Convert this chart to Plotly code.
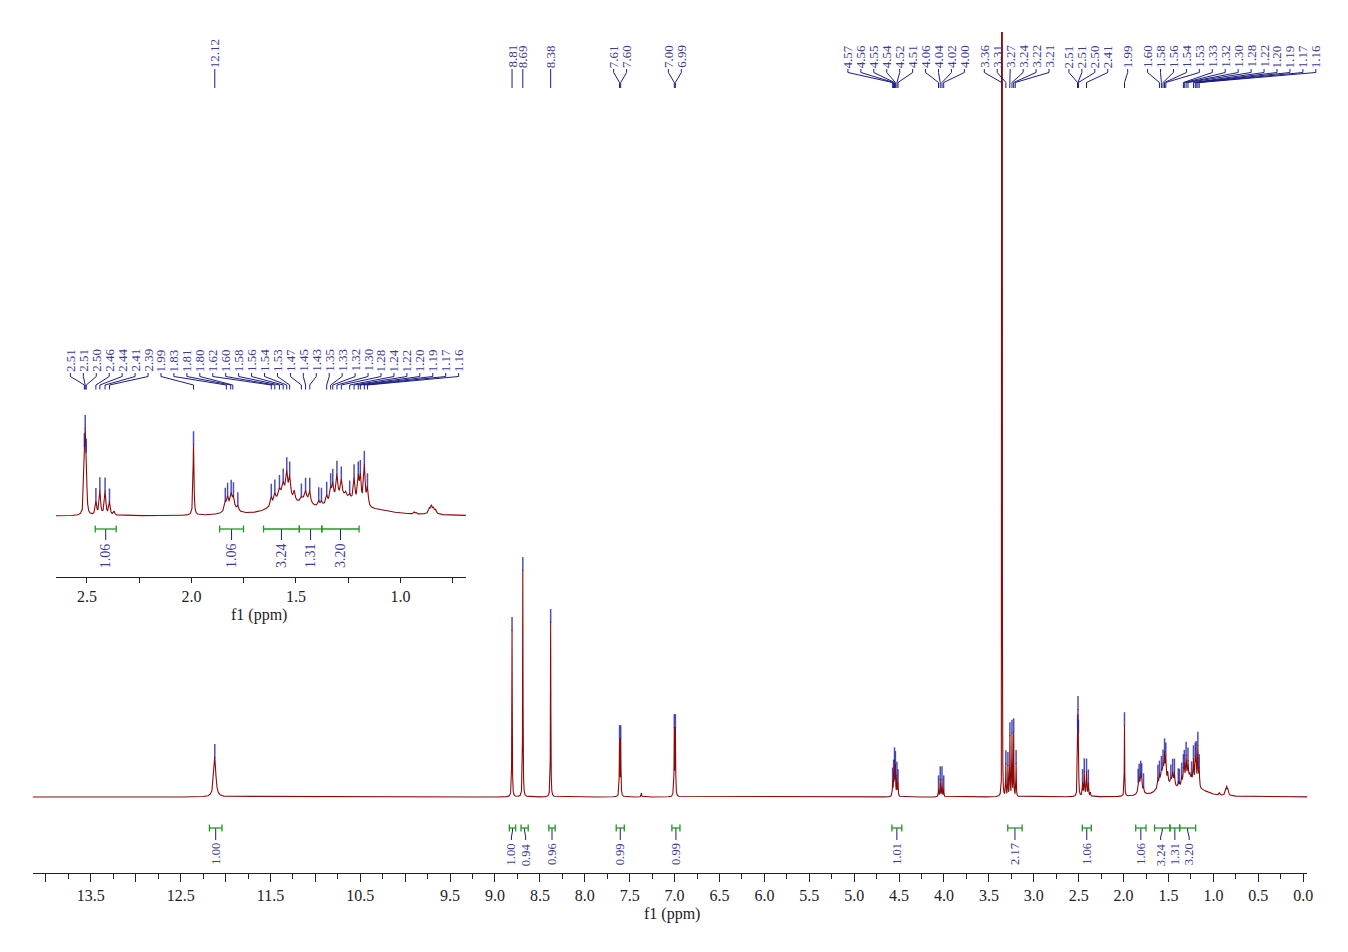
import numpy as np
import plotly.graph_objects as go

W, H = 1348, 952

# ---------------- data ----------------
# spectral lines: position (ppm), height (intensity units), half-width (ppm), peak-picked flag
LINE_PPM = [12.120, 8.810, 8.690, 8.380, 7.613, 7.600, 7.370, 7.003, 6.991,
            4.572, 4.561, 4.551, 4.541, 4.524, 4.512,
            4.061, 4.042, 4.022, 4.003,
            3.352,
            3.311, 3.288, 3.266, 3.243, 3.224, 3.197,
            2.512, 2.508, 2.503, 2.457, 2.438, 2.413, 2.392, 2.370,
            1.990,
            1.838, 1.827, 1.810, 1.799, 1.778, 1.810,
            1.618, 1.601, 1.579, 1.561, 1.544, 1.530, 1.508, 1.558,
            1.474, 1.454, 1.434, 1.455,
            1.391, 1.378,
            1.353, 1.334, 1.324, 1.304, 1.283, 1.262, 1.243, 1.222, 1.202, 1.192, 1.173, 1.158,
            1.280, 1.100,
            0.935, 0.925, 0.862, 0.852, 0.842, 0.832, 0.850]
LINE_HEIGHT = [40, 167, 227, 175, 56, 56, 4, 66, 66,
               14, 20, 32, 29, 20, 13,
               8, 17, 17, 8,
               2500,
               32, 30, 60, 62, 64, 33,
               45, 62, 45, 13, 24, 24, 13, 4,
               71,
               8, 11, 11, 10, 5, 8,
               8, 8, 6, 8, 20, 19, 9, 22,
               3, 7, 11, 10,
               5, 4,
               8, 12, 15, 22, 15, 4, 4, 23, 24, 26, 40, 18,
               18, 3,
               2, 1.5, 4, 6, 4, 3, 3]
LINE_HWHM = [0.014, 0.0025, 0.0025, 0.0025, 0.003, 0.003, 0.003, 0.003, 0.003,
             0.003, 0.003, 0.003, 0.003, 0.003, 0.003,
             0.003, 0.003, 0.003, 0.003,
             0.0008,
             0.0025, 0.0025, 0.0025, 0.0025, 0.0025, 0.0025,
             0.0028, 0.0028, 0.0028, 0.004, 0.004, 0.004, 0.004, 0.004,
             0.0025,
             0.005, 0.005, 0.005, 0.005, 0.005, 0.025,
             0.0045, 0.0045, 0.0045, 0.0045, 0.0045, 0.0045, 0.0045, 0.05,
             0.0045, 0.0045, 0.0045, 0.03,
             0.0045, 0.0045,
             0.0045, 0.0045, 0.0045, 0.0045, 0.0045, 0.0045, 0.0045, 0.0045, 0.0045, 0.0045, 0.0045, 0.0045,
             0.075, 0.1,
             0.003, 0.003, 0.004, 0.004, 0.004, 0.004, 0.02]
LINE_PICKED = [1, 1, 1, 1, 1, 1, 0, 1, 1,
               1, 1, 1, 1, 1, 1,
               1, 1, 1, 1,
               0,
               1, 1, 1, 1, 1, 1,
               1, 1, 1, 1, 1, 1, 1, 0,
               1,
               1, 1, 1, 1, 1, 0,
               1, 1, 1, 1, 1, 1, 0, 0,
               1, 1, 1, 0,
               1, 1,
               1, 1, 1, 1, 1, 0, 1, 1, 1, 1, 1, 1,
               0, 0,
               0, 0, 0, 0, 0, 0, 0]

# peak labels (ppm) of the main spectrum
MAIN_LABEL_SINGLE_GROUPS = [[12.120], [8.810], [8.690], [8.380], [7.613, 7.600], [7.003, 6.991]]
MAIN_LABEL_PACKED_GROUPS = [
    [4.572, 4.561, 4.551, 4.541, 4.524, 4.512, 4.061, 4.042, 4.022, 4.003],
    [3.358, 3.311, 3.268, 3.243, 3.224, 3.207],
    [2.512, 2.508, 2.503, 2.413],
    [1.990],
    [1.601, 1.579, 1.561, 1.544, 1.530, 1.334, 1.324, 1.304, 1.283, 1.222, 1.202, 1.192, 1.173, 1.158],
]
# peak labels (ppm) of the inset
INSET_LABELS = [2.512, 2.508, 2.503, 2.457, 2.438, 2.413, 2.392, 1.990, 1.833, 1.812, 1.802,
                1.618, 1.601, 1.579, 1.561, 1.544, 1.530, 1.474, 1.454, 1.434, 1.353, 1.334,
                1.324, 1.304, 1.283, 1.243, 1.222, 1.202, 1.192, 1.173, 1.158]

# integrals
MAIN_INT_FROM = [12.18, 8.84, 8.71, 8.40, 7.65, 7.03, 4.58, 3.29, 2.46, 1.865, 1.655, 1.484, 1.376]
MAIN_INT_TO = [12.04, 8.77, 8.63, 8.33, 7.56, 6.94, 4.47, 3.13, 2.36, 1.751, 1.484, 1.376, 1.198]
MAIN_INT_VALUE = ["1.00", "1.00", "0.94", "0.96", "0.99", "0.99", "1.01", "2.17", "1.06", "1.06", "3.24", "1.31", "3.20"]
INSET_INT_FROM = [2.46, 1.865, 1.655, 1.484, 1.376]
INSET_INT_TO = [2.36, 1.751, 1.484, 1.376, 1.198]
INSET_INT_VALUE = ["1.06", "1.06", "3.24", "1.31", "3.20"]

# axis ticks
MAIN_TICKS = [14.0, 13.5, 13.0, 12.5, 12.0, 11.5, 11.0, 10.5, 10.0, 9.5, 9.0, 8.5, 8.0, 7.5, 7.0,
              6.5, 6.0, 5.5, 5.0, 4.5, 4.0, 3.5, 3.0, 2.5, 2.0, 1.5, 1.0, 0.5, 0.0]
MAIN_TICK_TEXT = ["", "13.5", "", "12.5", "", "11.5", "", "10.5", "", "9.5", "9.0", "8.5", "8.0", "7.5", "7.0",
                  "6.5", "6.0", "5.5", "5.0", "4.5", "4.0", "3.5", "3.0", "2.5", "2.0", "1.5", "1.0", "0.5", "0.0"]
MAIN_MINOR_TICKS = [13.75, 13.25, 12.75, 12.25, 11.75, 11.25, 10.75, 10.25, 9.75, 9.25, 8.75, 8.25, 7.75,
                    7.25, 6.75, 6.25, 5.75, 5.25, 4.75, 4.25, 3.75, 3.25, 2.75, 2.25, 1.75, 1.25, 0.75, 0.25]
INSET_TICKS = [2.5, 2.25, 2.0, 1.75, 1.5, 1.25, 1.0, 0.75]
INSET_TICK_TEXT = ["2.5", "", "2.0", "", "1.5", "", "1.0", ""]

# ---------------- layout constants ----------------
FONT = "Liberation Serif"
RED = "#8b0a0a"
NAVY = "#1c1c82"
LABEL_BLUE = "#3a3a9c"
MARK = "rgba(35,35,160,0.8)"
GREEN = "#1f9a1f"
AXC = "#222222"

M_RANGE = (14.146, -0.044)
M_PX = (33.0, 1313.0)
M_YPX = (873.0, 32.0)
M_BASE = 797.0
I_RANGE = (2.649, 0.687)
I_PX = (56.0, 468.0)
I_YPX = (577.0, 395.0)
I_BASE = 516.0

LABEL_STEP = 13.0
PACK_START = 851.7
PACK_GAP = 20.0
INSET_LABEL_START = 70.7


def to_px(v, rng, pxr):
    return pxr[0] + (rng[0] - v) / (rng[0] - rng[1]) * (pxr[1] - pxr[0])


def mpx(v):
    return to_px(v, M_RANGE, M_PX)


def ipx(v):
    return to_px(v, I_RANGE, I_PX)


def spectrum(x):
    y = np.zeros_like(x)
    for c, h, w in zip(LINE_PPM, LINE_HEIGHT, LINE_HWHM):
        y += h * w * w / (w * w + (x - c) ** 2)
    return y


grid = np.union1d(np.arange(-0.06, 14.2, 0.0005), np.array(LINE_PPM))
spec = spectrum(grid)

fig = go.Figure()

# main spectrum
fig.add_trace(go.Scatter(x=grid, y=spec, mode="lines", line=dict(color=RED, width=1.1),
                         xaxis="x", yaxis="y", hoverinfo="skip"))
# inset spectrum
imask = (grid <= I_RANGE[0]) & (grid >= I_RANGE[1])
fig.add_trace(go.Scatter(x=grid[imask], y=spec[imask], mode="lines", line=dict(color=RED, width=1.1),
                         xaxis="x2", yaxis="y2", hoverinfo="skip"))

# peak-pick markers
pk = np.array([p for p, f in zip(LINE_PPM, LINE_PICKED) if f])
pv = spectrum(pk)
fig.add_trace(go.Scatter(x=pk, y=pv + 6, mode="markers", xaxis="x", yaxis="y", hoverinfo="skip",
                         marker=dict(symbol="line-ns", size=10, line=dict(width=1.5, color=MARK))))
im = (pk <= I_RANGE[0]) & (pk >= I_RANGE[1])
fig.add_trace(go.Scatter(x=pk[im], y=pv[im] + 6, mode="markers", xaxis="x2", yaxis="y2", hoverinfo="skip",
                         marker=dict(symbol="line-ns", size=10, line=dict(width=1.5, color=MARK))))

annotations = []
conn_x, conn_y = [], []


def add_connector(lx, p, ys):
    conn_x.extend([lx, lx, p, p, None])
    conn_y.extend([ys[0], ys[1], ys[2], ys[3], None])


def add_rot_label(lx, ybottom, text, size):
    annotations.append(dict(x=lx / W, y=(H - ybottom) / H, xref="paper", yref="paper", text=text,
                            textangle=-90, xanchor="center", yanchor="bottom", showarrow=False,
                            borderpad=0, font=dict(family=FONT, size=size, color=LABEL_BLUE)))


# main peak labels
main_labels = []
for grp in MAIN_LABEL_SINGLE_GROUPS:
    c = np.mean([mpx(v) for v in grp])
    n = len(grp)
    for i, v in enumerate(grp):
        main_labels.append((c + (i - (n - 1) / 2) * LABEL_STEP, v))
pos = PACK_START
for grp in MAIN_LABEL_PACKED_GROUPS:
    for v in grp:
        main_labels.append((pos, v))
        pos += LABEL_STEP
    pos += PACK_GAP - LABEL_STEP
for lx, v in main_labels:
    add_connector(lx, mpx(v), (69, 72.5, 82.5, 88))
    add_rot_label(lx, 69, f"{v:.2f}", 13)

# inset peak labels
for i, v in enumerate(INSET_LABELS):
    lx = INSET_LABEL_START + i * LABEL_STEP
    add_connector(lx, ipx(v), (373, 376.5, 385, 389.5))
    add_rot_label(lx, 373, f"{v:.2f}", 13)


def spread(centers, gap):
    # merge overlapping clusters, each centred at the mean of its members
    clusters = [[c] for c in centers]
    changed = True
    while changed:
        changed = False
        out = []
        for cl in clusters:
            if out:
                prev = out[-1]
                pm = np.mean(prev)
                plast = pm + (len(prev) - 1) / 2 * gap
                cm = np.mean(cl)
                cfirst = cm - (len(cl) - 1) / 2 * gap
                if cfirst - plast < gap - 1e-9:
                    out[-1] = prev + cl
                    changed = True
                    continue
            out.append(cl)
        clusters = out
    res = []
    for cl in clusters:
        m = np.mean(cl)
        n = len(cl)
        res.extend([m + (i - (n - 1) / 2) * gap for i in range(n)])
    return res


br_x, br_y = [], []
st_x, st_y = [], []


def add_integrals(f, t, vals, tomap, ybr, stem, text_top, size):
    cs = [(tomap(a) + tomap(b)) / 2 for a, b in zip(f, t)]
    ls = spread(cs, 14.3)
    for a, b, val, c, lx in zip(f, t, vals, cs, ls):
        x1, x2 = tomap(a), tomap(b)
        br_x.extend([x1, x2, None, x1, x1, None, x2, x2, None])
        br_y.extend([ybr, ybr, None, ybr - 3.5, ybr + 3.5, None, ybr - 3.5, ybr + 3.5, None])
        st_x.extend([c, c, lx, lx, None])
        st_y.extend([ybr, ybr + stem[0], ybr + stem[1], ybr + stem[2], None])
        annotations.append(dict(x=lx / W, y=(H - text_top) / H, xref="paper", yref="paper", text=val,
                                textangle=-90, xanchor="center", yanchor="top", showarrow=False,
                                borderpad=0, font=dict(family=FONT, size=size, color=LABEL_BLUE)))


add_integrals(MAIN_INT_FROM, MAIN_INT_TO, MAIN_INT_VALUE, mpx, 828, (3, 9, 12), 842, 12.5)
add_integrals(INSET_INT_FROM, INSET_INT_TO, INSET_INT_VALUE, ipx, 529, (3, 8, 11), 542, 14)

fig.add_trace(go.Scatter(x=conn_x, y=conn_y, mode="lines", line=dict(color=NAVY, width=1),
                         xaxis="x3", yaxis="y3", hoverinfo="skip"))
fig.add_trace(go.Scatter(x=st_x, y=st_y, mode="lines", line=dict(color=NAVY, width=1),
                         xaxis="x3", yaxis="y3", hoverinfo="skip"))
fig.add_trace(go.Scatter(x=br_x, y=br_y, mode="lines", line=dict(color=GREEN, width=1.3),
                         xaxis="x3", yaxis="y3", hoverinfo="skip"))

# axis titles
annotations.append(dict(x=675 / W, y=(H - 914) / H, xref="paper", yref="paper", text="f1 (ppm)",
                        showarrow=False, xanchor="center", yanchor="middle",
                        font=dict(family=FONT, size=16, color=AXC)))
annotations.append(dict(x=260 / W, y=(H - 615) / H, xref="paper", yref="paper", text="f1 (ppm)",
                        showarrow=False, xanchor="center", yanchor="middle",
                        font=dict(family=FONT, size=16, color=AXC)))

tickfont = dict(family=FONT, size=16, color=AXC)
fig.update_layout(
    width=W, height=H, autosize=False, margin=dict(l=0, r=0, t=0, b=0),
    paper_bgcolor="white", plot_bgcolor="rgba(0,0,0,0)", showlegend=False,
    xaxis=dict(domain=[M_PX[0] / W, M_PX[1] / W], range=list(M_RANGE), anchor="y",
               showline=True, linecolor=AXC, linewidth=1, ticks="outside", ticklen=8, tickwidth=1,
               tickcolor=AXC, tickvals=MAIN_TICKS, ticktext=MAIN_TICK_TEXT, tickfont=tickfont,
               showgrid=False, zeroline=False, fixedrange=True,
               minor=dict(tickvals=MAIN_MINOR_TICKS, ticklen=5, tickwidth=1, tickcolor=AXC,
                          ticks="outside", showgrid=False)),
    yaxis=dict(domain=[(H - M_YPX[0]) / H, (H - M_YPX[1]) / H],
               range=[-(M_YPX[0] - M_BASE), M_BASE - M_YPX[1]], visible=False, fixedrange=True),
    xaxis2=dict(domain=[I_PX[0] / W, I_PX[1] / W], range=list(I_RANGE), anchor="y2",
                showline=True, linecolor=AXC, linewidth=1, ticks="outside", ticklen=5, tickwidth=1,
                tickcolor=AXC, tickvals=INSET_TICKS, ticktext=INSET_TICK_TEXT, tickfont=tickfont,
                showgrid=False, zeroline=False, fixedrange=True),
    yaxis2=dict(domain=[(H - I_YPX[0]) / H, (H - I_YPX[1]) / H],
                range=[-(I_YPX[0] - I_BASE), I_BASE - I_YPX[1]], anchor="x2",
                visible=False, fixedrange=True),
    xaxis3=dict(domain=[0, 1], range=[0, W], anchor="y3", visible=False, fixedrange=True),
    yaxis3=dict(domain=[0, 1], range=[H, 0], anchor="x3", visible=False, fixedrange=True),
    annotations=annotations,
)

fig.write_html("out.html")
